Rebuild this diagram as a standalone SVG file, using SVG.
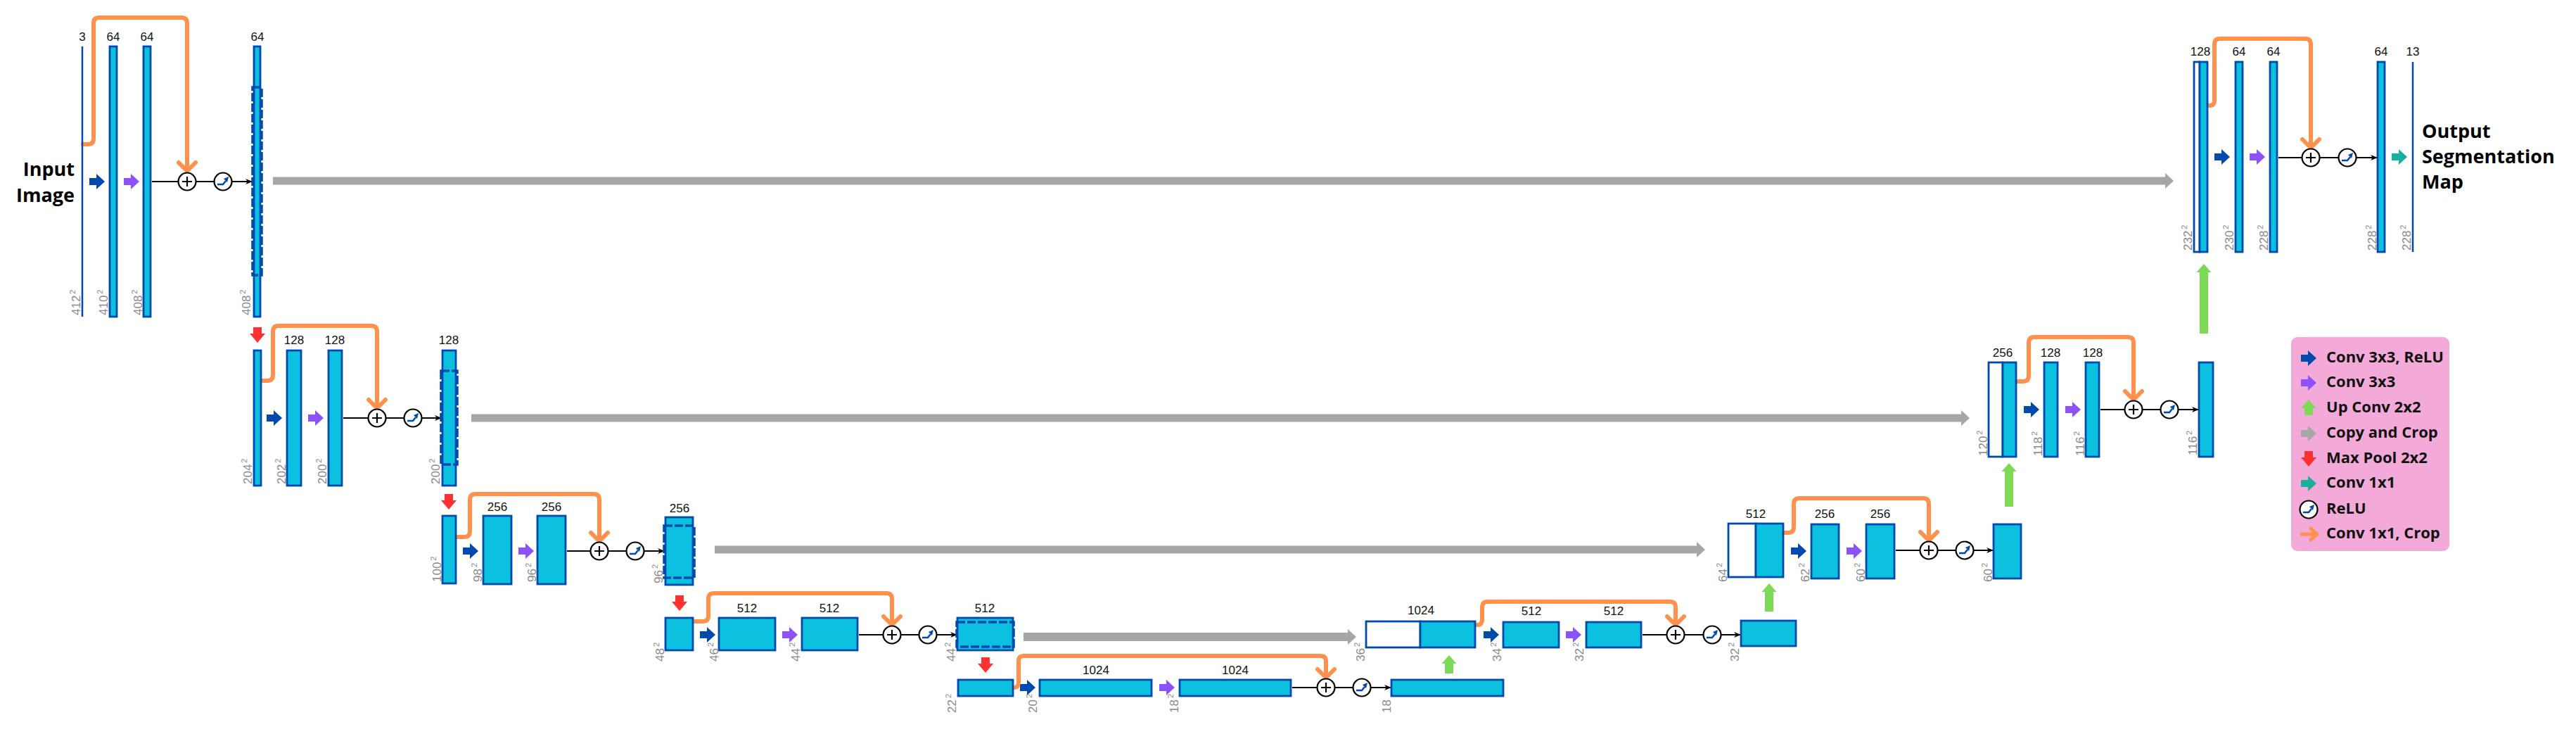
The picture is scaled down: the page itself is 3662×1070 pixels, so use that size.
<svg xmlns="http://www.w3.org/2000/svg" xmlns:xlink="http://www.w3.org/1999/xlink" width="3662" height="1070" viewBox="0 0 3662 1070">
<style>
.lay{fill:#0CC0DF;stroke:#004AAD;stroke-width:2.8}
.wht{fill:#fff;stroke:#004AAD;stroke-width:2.8}
.ln{stroke:#004AAD;stroke-width:2.5}
.ch{font-family:"Liberation Sans",Arial,sans-serif;font-size:17px;fill:#111;text-anchor:middle}
.sz{font-family:"Liberation Sans",Arial,sans-serif;font-size:17px;fill:#8a8a8a}
.sup{font-size:11px}
.sk{fill:none;stroke:#FF914D;stroke-width:6;stroke-linecap:round;stroke-linejoin:round}
.blk{stroke:#000;stroke-width:2;fill:none;marker-end:url(#mk)}
.cp{fill:#A6A6A6}
.ttl{font-family:"Open Sans","Liberation Sans",sans-serif;font-weight:700;font-size:27px;fill:#000}
.lg{font-family:"Open Sans","Liberation Sans",sans-serif;font-weight:700;font-size:22px;fill:#111}
.crop{fill:none;stroke:#004AAD;stroke-width:3.5;stroke-dasharray:12 3}
.cb{fill:#004AAD}.cv{fill:#8C52FF}.cg{fill:#7ED957}.cr{fill:#FF3131}.ct{fill:#1AAE9F}
</style>
<defs>
<marker id="mk" viewBox="0 0 10 10" markerWidth="5" markerHeight="5" refX="9" refY="5" orient="auto">
<path d="M0,1 L10,5 L0,9 L3,5z" fill="#000"/>
</marker>
<polygon id="ar" points="0,-5 10,-5 10,-11 22,0 10,11 10,5 0,5"/>
<polygon id="ad" points="-6,0 6,0 6,9 11,9 0,22 -11,9 -6,9"/>
<polygon id="au" points="-6,20 6,20 6,10 11,10 0,-2 -11,10 -6,10"/>
<g id="plus"><circle r="12.5" fill="#fff" stroke="#000" stroke-width="2.2"/><path d="M-7,0H7M0,-7V7" stroke="#000" stroke-width="2.2"/></g>
<g id="relu"><circle r="12.5" fill="#fff" stroke="#000" stroke-width="2.2"/><path d="M-8,4H0L4,-1" fill="none" stroke="#004AAD" stroke-width="2.5"/><path d="M1,-4L8,-7L6,1z" fill="#004AAD"/></g>
</defs>
<rect width="3662" height="1070" fill="#fff"/>

<!-- titles -->
<g id="title-input">
<text class="ttl" x="106" y="250" text-anchor="end">Input</text>
<text class="ttl" x="106" y="287" text-anchor="end">Image</text>
</g>
<g id="title-output">
<text class="ttl" x="3443" y="196">Output</text>
<text class="ttl" x="3443" y="232">Segmentation</text>
<text class="ttl" x="3443" y="268">Map</text>
</g>

<!-- connectors -->
<g id="connectors">
<!-- copy and crop -->
<polygon class="cp" points="388,251.5 3078,251.5 3078,246 3090,257 3078,268 3078,262.5 388,262.5"/>
<polygon class="cp" points="670,588.5 2788,588.5 2788,583 2800,594 2788,605 2788,599.5 670,599.5"/>
<polygon class="cp" points="1016,775.5 2412,775.5 2412,770 2424,781 2412,792 2412,786.5 1016,786.5"/>
<polygon class="cp" points="1455,899 1916,899 1916,894 1928,905 1916,916 1916,911 1455,911"/>
<!-- up conv -->
<polygon class="cg" points="2054,957 2066,957 2066,943 2070.5,943 2060,931 2049.5,943 2054,943"/>
<polygon class="cg" points="2509,869 2521,869 2521,841 2525.5,841 2515,829 2504.5,841 2509,841"/>
<polygon class="cg" points="2850,720 2862,720 2862,670 2866.5,670 2856,658 2845.5,670 2850,670"/>
<polygon class="cg" points="3127,474 3139,474 3139,387 3143.5,387 3133,375 3122.5,387 3127,387"/>
<!-- max pool -->
<use href="#ad" x="366" y="465" class="cr"/>
<use href="#ad" x="638" y="702" class="cr"/>
<use href="#ad" x="966" y="846" class="cr"/>
<use href="#ad" x="1401" y="934" class="cr"/>
<!-- conv 3x3 relu -->
<use href="#ar" x="127" y="258" class="cb"/>
<use href="#ar" x="379" y="594" class="cb"/>
<use href="#ar" x="658" y="783" class="cb"/>
<use href="#ar" x="995" y="902" class="cb"/>
<use href="#ar" x="1450" y="977" class="cb"/>
<use href="#ar" x="2109" y="902" class="cb"/>
<use href="#ar" x="2546" y="783" class="cb"/>
<use href="#ar" x="2877" y="582" class="cb"/>
<use href="#ar" x="3148" y="223" class="cb"/>
<!-- conv 3x3 -->
<use href="#ar" x="176" y="258" class="cv"/>
<use href="#ar" x="438" y="594" class="cv"/>
<use href="#ar" x="737" y="783" class="cv"/>
<use href="#ar" x="1112" y="902" class="cv"/>
<use href="#ar" x="1648" y="977" class="cv"/>
<use href="#ar" x="2226" y="902" class="cv"/>
<use href="#ar" x="2625" y="783" class="cv"/>
<use href="#ar" x="2936" y="582" class="cv"/>
<use href="#ar" x="3198" y="223" class="cv"/>
<!-- conv 1x1 -->
<use href="#ar" x="3400" y="223" class="ct"/>
<!-- black flow arrows -->
<path class="blk" d="M216,258H253M279,258H304M330,258H358"/>
<path class="blk" d="M488,594H523M549,594H574M600,594H627"/>
<path class="blk" d="M806,783H839M865,783H890M916,783H944"/>
<path class="blk" d="M1221,902H1255M1281,902H1306M1332,902H1360"/>
<path class="blk" d="M1837,977H1872M1898,977H1923M1949,977H1977"/>
<path class="blk" d="M2335,902H2369M2395,902H2421M2447,902H2474"/>
<path class="blk" d="M2695,782H2729M2755,782H2780M2806,782H2833"/>
<path class="blk" d="M2986,582H3020M3046,582H3071M3097,582H3125"/>
<path class="blk" d="M3239,224H3272M3298,224H3324M3350,224H3379"/>
<!-- conv 1x1 crop skips -->
<path class="sk" d="M118,205H125Q133,205 133,197V33Q133,25 141,25H258Q266,25 266,33V243M254,231L266,243L278,231"/>
<path class="sk" d="M372,541H380Q388,541 388,533V471Q388,463 396,463H528Q536,463 536,471V580M524,568L536,580L548,568"/>
<path class="sk" d="M649,763H660Q668,763 668,755V710Q668,702 676,702H844Q852,702 852,710V769M840,757L852,769L864,757"/>
<path class="sk" d="M986,883H999Q1007,883 1007,875V851Q1007,843 1015,843H1260Q1268,843 1268,851V888M1256,876L1268,888L1280,876"/>
<path class="sk" d="M1441,977Q1448,977 1448,970V939Q1448,932 1455,932H1877Q1885,932 1885,940V963M1873,951L1885,963L1897,951"/>
<path class="sk" d="M2098,888H2100Q2107,888 2107,881V863Q2107,855 2115,855H2374Q2382,855 2382,863V888M2370,876L2382,888L2394,876"/>
<path class="sk" d="M2536,757H2542Q2550,757 2550,749V716Q2550,708 2558,708H2734Q2742,708 2742,716V768M2730,756L2742,768L2754,756"/>
<path class="sk" d="M2867,542H2876Q2884,542 2884,534V487Q2884,479 2892,479H3025Q3033,479 3033,487V568M3021,556L3033,568L3045,556"/>
<path class="sk" d="M3139,150H3141Q3148,150 3148,143V63Q3148,55 3156,55H3277Q3285,55 3285,63V210M3273,198L3285,210L3297,198"/>
</g>

<!-- operation nodes -->
<g id="ops">
<use href="#plus" x="266" y="258"/><use href="#relu" x="317" y="258"/>
<use href="#plus" x="536" y="594"/><use href="#relu" x="587" y="594"/>
<use href="#plus" x="852" y="783"/><use href="#relu" x="903" y="783"/>
<use href="#plus" x="1268" y="902"/><use href="#relu" x="1319" y="902"/>
<use href="#plus" x="1885" y="977"/><use href="#relu" x="1936" y="977"/>
<use href="#plus" x="2382" y="902"/><use href="#relu" x="2434" y="902"/>
<use href="#plus" x="2742" y="782"/><use href="#relu" x="2793" y="782"/>
<use href="#plus" x="3033" y="582"/><use href="#relu" x="3084" y="582"/>
<use href="#plus" x="3285" y="224"/><use href="#relu" x="3337" y="224"/>
</g>

<!-- encoder level 1 -->
<g id="enc1-input"><line class="ln" x1="117" y1="66" x2="117" y2="450"/><text class="ch" x="117" y="58">3</text>
<text class="sz" transform="translate(114,448) rotate(-90)">412<tspan class="sup" dx="2" dy="-7">2</tspan></text></g>
<g id="enc1-conv1"><rect class="lay" x="156" y="66" width="10" height="384"/><text class="ch" x="161" y="58">64</text>
<text class="sz" transform="translate(153,448) rotate(-90)">410<tspan class="sup" dx="2" dy="-7">2</tspan></text></g>
<g id="enc1-conv2"><rect class="lay" x="204" y="66" width="10" height="384"/><text class="ch" x="209" y="58">64</text>
<text class="sz" transform="translate(202,448) rotate(-90)">408<tspan class="sup" dx="2" dy="-7">2</tspan></text></g>
<g id="enc1-out"><rect class="lay" x="361" y="66" width="9" height="384"/>
<rect class="crop" x="359" y="124" width="13" height="267"/>
<text class="ch" x="366" y="58">64</text>
<text class="sz" transform="translate(356,448) rotate(-90)">408<tspan class="sup" dx="2" dy="-7">2</tspan></text></g>

<!-- encoder level 2 -->
<g id="enc2-pool"><rect class="lay" x="361" y="498" width="10" height="192"/>
<text class="sz" transform="translate(358,688) rotate(-90)">204<tspan class="sup" dx="2" dy="-7">2</tspan></text></g>
<g id="enc2-conv1"><rect class="lay" x="408" y="498" width="20" height="192"/><text class="ch" x="418" y="489">128</text>
<text class="sz" transform="translate(406,688) rotate(-90)">202<tspan class="sup" dx="2" dy="-7">2</tspan></text></g>
<g id="enc2-conv2"><rect class="lay" x="467" y="498" width="19" height="192"/><text class="ch" x="476" y="489">128</text>
<text class="sz" transform="translate(464,688) rotate(-90)">200<tspan class="sup" dx="2" dy="-7">2</tspan></text></g>
<g id="enc2-out"><rect class="lay" x="629" y="498" width="19" height="192"/>
<rect class="crop" x="627" y="527" width="23" height="133"/>
<text class="ch" x="638" y="489">128</text>
<text class="sz" transform="translate(625,688) rotate(-90)">200<tspan class="sup" dx="2" dy="-7">2</tspan></text></g>

<!-- encoder level 3 -->
<g id="enc3-pool"><rect class="lay" x="629" y="733" width="19" height="96"/>
<text class="sz" transform="translate(627,827) rotate(-90)">100<tspan class="sup" dx="2" dy="-7">2</tspan></text></g>
<g id="enc3-conv1"><rect class="lay" x="687" y="733" width="40" height="97"/><text class="ch" x="707" y="726">256</text>
<text class="sz" transform="translate(685,827) rotate(-90)">98<tspan class="sup" dx="2" dy="-7">2</tspan></text></g>
<g id="enc3-conv2"><rect class="lay" x="764" y="733" width="40" height="97"/><text class="ch" x="784" y="726">256</text>
<text class="sz" transform="translate(762,827) rotate(-90)">96<tspan class="sup" dx="2" dy="-7">2</tspan></text></g>
<g id="enc3-out"><rect class="lay" x="946" y="735" width="39" height="96"/>
<rect class="crop" x="944" y="747" width="43" height="74"/>
<text class="ch" x="966" y="728">256</text>
<text class="sz" transform="translate(942,829) rotate(-90)">96<tspan class="sup" dx="2" dy="-7">2</tspan></text></g>

<!-- encoder level 4 -->
<g id="enc4-pool"><rect class="lay" x="946" y="878" width="39" height="46"/>
<text class="sz" transform="translate(944,940) rotate(-90)">48<tspan class="sup" dx="2" dy="-7">2</tspan></text></g>
<g id="enc4-conv1"><rect class="lay" x="1022" y="878" width="80" height="46"/><text class="ch" x="1062" y="870">512</text>
<text class="sz" transform="translate(1021,940) rotate(-90)">46<tspan class="sup" dx="2" dy="-7">2</tspan></text></g>
<g id="enc4-conv2"><rect class="lay" x="1140" y="878" width="79" height="46"/><text class="ch" x="1179" y="870">512</text>
<text class="sz" transform="translate(1137,940) rotate(-90)">44<tspan class="sup" dx="2" dy="-7">2</tspan></text></g>
<g id="enc4-out"><rect class="lay" x="1361" y="878" width="79" height="46"/>
<rect class="crop" x="1360" y="884" width="81" height="35"/>
<text class="ch" x="1400" y="870">512</text>
<text class="sz" transform="translate(1358,940) rotate(-90)">44<tspan class="sup" dx="2" dy="-7">2</tspan></text></g>

<!-- bottleneck -->
<g id="bott-pool"><rect class="lay" x="1362" y="966" width="78" height="23"/>
<text class="sz" transform="translate(1359,1013) rotate(-90)">22<tspan class="sup" dx="2" dy="-7">2</tspan></text></g>
<g id="bott-conv1"><rect class="lay" x="1478" y="966" width="159" height="23"/><text class="ch" x="1558" y="958">1024</text>
<text class="sz" transform="translate(1474,1013) rotate(-90)">20<tspan class="sup" dx="2" dy="-7">2</tspan></text></g>
<g id="bott-conv2"><rect class="lay" x="1677" y="966" width="158" height="23"/><text class="ch" x="1756" y="958">1024</text>
<text class="sz" transform="translate(1675,1013) rotate(-90)">18<tspan class="sup" dx="2" dy="-7">2</tspan></text></g>
<g id="bott-out"><rect class="lay" x="1978" y="966" width="159" height="23"/>
<text class="sz" transform="translate(1977,1013) rotate(-90)">18</text></g>

<!-- decoder level 4 -->
<g id="dec4-concat"><rect class="wht" x="1942" y="883" width="77" height="37"/><rect class="lay" x="2019" y="883" width="78" height="37"/>
<text class="ch" x="2020" y="873">1024</text>
<text class="sz" transform="translate(1940,940) rotate(-90)">36<tspan class="sup" dx="2" dy="-7">2</tspan></text></g>
<g id="dec4-conv1"><rect class="lay" x="2137" y="884" width="79" height="36"/><text class="ch" x="2177" y="874">512</text>
<text class="sz" transform="translate(2134,940) rotate(-90)">34<tspan class="sup" dx="2" dy="-7">2</tspan></text></g>
<g id="dec4-conv2"><rect class="lay" x="2255" y="884" width="78" height="36"/><text class="ch" x="2294" y="874">512</text>
<text class="sz" transform="translate(2251,940) rotate(-90)">32<tspan class="sup" dx="2" dy="-7">2</tspan></text></g>
<g id="dec4-out"><rect class="lay" x="2475" y="882" width="78" height="36"/>
<text class="sz" transform="translate(2472,940) rotate(-90)">32<tspan class="sup" dx="2" dy="-7">2</tspan></text></g>

<!-- decoder level 3 -->
<g id="dec3-concat"><rect class="wht" x="2457" y="744" width="39" height="76"/><rect class="lay" x="2496" y="744" width="39" height="76"/>
<text class="ch" x="2496" y="736">512</text>
<text class="sz" transform="translate(2455,827) rotate(-90)">64<tspan class="sup" dx="2" dy="-7">2</tspan></text></g>
<g id="dec3-conv1"><rect class="lay" x="2575" y="745" width="39" height="77"/><text class="ch" x="2594" y="736">256</text>
<text class="sz" transform="translate(2572,827) rotate(-90)">62<tspan class="sup" dx="2" dy="-7">2</tspan></text></g>
<g id="dec3-conv2"><rect class="lay" x="2653" y="745" width="40" height="77"/><text class="ch" x="2673" y="736">256</text>
<text class="sz" transform="translate(2651,827) rotate(-90)">60<tspan class="sup" dx="2" dy="-7">2</tspan></text></g>
<g id="dec3-out"><rect class="lay" x="2834" y="745" width="39" height="77"/>
<text class="sz" transform="translate(2832,827) rotate(-90)">60<tspan class="sup" dx="2" dy="-7">2</tspan></text></g>

<!-- decoder level 2 -->
<g id="dec2-concat"><rect class="wht" x="2827" y="515" width="20" height="134"/><rect class="lay" x="2847" y="515" width="19" height="134"/>
<text class="ch" x="2847" y="507">256</text>
<text class="sz" transform="translate(2825,648) rotate(-90)">120<tspan class="sup" dx="2" dy="-7">2</tspan></text></g>
<g id="dec2-conv1"><rect class="lay" x="2906" y="515" width="19" height="134"/><text class="ch" x="2915" y="507">128</text>
<text class="sz" transform="translate(2903,648) rotate(-90)">118<tspan class="sup" dx="2" dy="-7">2</tspan></text></g>
<g id="dec2-conv2"><rect class="lay" x="2965" y="515" width="19" height="134"/><text class="ch" x="2975" y="507">128</text>
<text class="sz" transform="translate(2963,648) rotate(-90)">116<tspan class="sup" dx="2" dy="-7">2</tspan></text></g>
<g id="dec2-out"><rect class="lay" x="3126" y="515" width="20" height="134"/>
<text class="sz" transform="translate(3123,647) rotate(-90)">116<tspan class="sup" dx="2" dy="-7">2</tspan></text></g>

<!-- decoder level 1 -->
<g id="dec1-concat"><rect class="wht" x="3119" y="88" width="8" height="270"/><rect class="lay" x="3127" y="88" width="11" height="270"/>
<text class="ch" x="3128" y="79">128</text>
<text class="sz" transform="translate(3116,356) rotate(-90)">232<tspan class="sup" dx="2" dy="-7">2</tspan></text></g>
<g id="dec1-conv1"><rect class="lay" x="3178" y="88" width="10" height="270"/><text class="ch" x="3183" y="79">64</text>
<text class="sz" transform="translate(3175,356) rotate(-90)">230<tspan class="sup" dx="2" dy="-7">2</tspan></text></g>
<g id="dec1-conv2"><rect class="lay" x="3227" y="88" width="10" height="270"/><text class="ch" x="3232" y="79">64</text>
<text class="sz" transform="translate(3224,356) rotate(-90)">228<tspan class="sup" dx="2" dy="-7">2</tspan></text></g>
<g id="dec1-out"><rect class="lay" x="3380" y="88" width="10" height="270"/><text class="ch" x="3385" y="79">64</text>
<text class="sz" transform="translate(3378,356) rotate(-90)">228<tspan class="sup" dx="2" dy="-7">2</tspan></text></g>
<g id="output-map"><line class="ln" x1="3430" y1="88" x2="3430" y2="358"/><text class="ch" x="3430" y="79">13</text>
<text class="sz" transform="translate(3427,356) rotate(-90)">228<tspan class="sup" dx="2" dy="-7">2</tspan></text></g>

<!-- legend -->
<g id="legend">
<rect x="3257" y="479" width="225" height="304" rx="9" fill="#F4AAD8"/>
<use href="#ar" x="3271" y="509" class="cb"/><text class="lg" x="3307" y="515">Conv 3x3, ReLU</text>
<use href="#ar" x="3271" y="544" class="cv"/><text class="lg" x="3307" y="550">Conv 3x3</text>
<use href="#au" x="3282" y="570" class="cg"/><text class="lg" x="3307" y="586">Up Conv 2x2</text>
<use href="#ar" x="3271" y="616" class="cp"/><text class="lg" x="3307" y="622">Copy and Crop</text>
<use href="#ad" x="3282" y="641" class="cr"/><text class="lg" x="3307" y="658">Max Pool 2x2</text>
<use href="#ar" x="3271" y="687" class="ct"/><text class="lg" x="3307" y="693">Conv 1x1</text>
<use href="#relu" x="3282" y="724"/><text class="lg" x="3307" y="730">ReLU</text>
<path class="sk" d="M3272,759H3293M3285,751L3294,759L3285,767" style="stroke-width:5"/><text class="lg" x="3307" y="765">Conv 1x1, Crop</text>
</g>
</svg>
